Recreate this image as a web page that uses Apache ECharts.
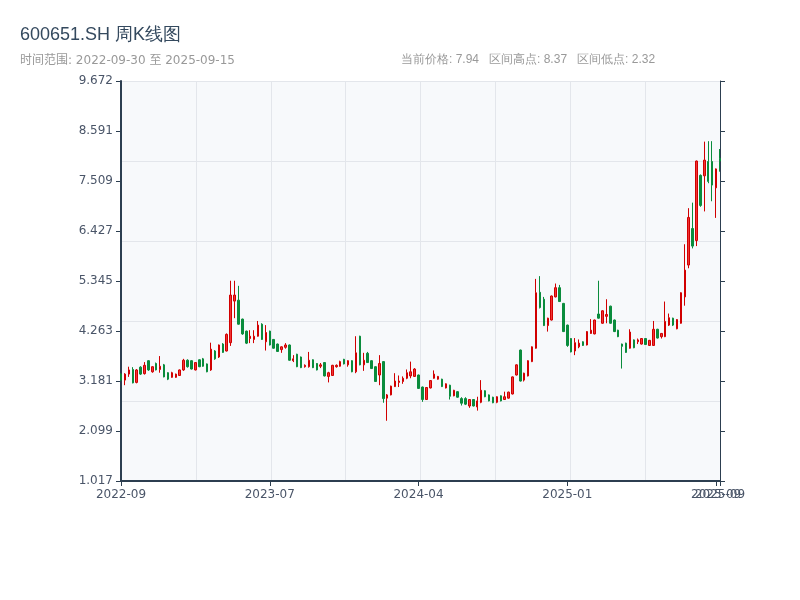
<!DOCTYPE html>
<html><head><meta charset="utf-8">
<script src="https://cdn.jsdelivr.net/npm/echarts@6/dist/echarts.min.js"></script>
<style>html,body{margin:0;padding:0;background:#fff}#c{width:800px;height:600px}</style>
</head><body><div id="c"></div>
<script>
// ---- categories (weekly trading dates) ----
const firstFriday = '2022-09-30';
const lastWeekFriday = '2025-09-12';
const holidayWeeks = ['2022-10-07', '2023-01-27', '2023-10-06', '2024-02-16'];
const extraDates = ['2025-01-27', '2025-04-30'];
const lastDate = '2025-09-15';

// ---- weekly OHLC ----
const opens = [3.33,3.20,3.33,3.43,3.15,3.48,3.34,3.62,3.38,3.56,3.43,3.53,3.36,3.26,3.26,3.30,3.42,3.63,3.62,3.42,
3.64,3.66,3.55,3.42,3.83,3.70,3.98,3.83,4.01,4.91,4.93,4.52,4.26,4.10,4.08,4.15,4.41,4.03,4.26,4.08,
3.98,3.86,3.91,3.96,3.62,3.76,3.70,3.49,3.49,3.64,3.56,3.50,3.58,3.28,3.30,3.49,3.50,3.65,3.53,3.62,
3.38,4.15,3.53,3.78,3.62,3.49,3.31,3.60,2.81,2.88,3.06,3.15,3.17,3.24,3.29,3.28,3.31,3.05,2.78,3.03,
3.24,3.22,3.22,3.03,3.09,2.86,2.95,2.80,2.80,2.64,2.78,2.62,2.72,2.97,2.88,2.83,2.72,2.86,2.78,2.81,
2.90,3.31,3.85,3.20,3.29,3.60,3.89,5.10,4.95,4.38,4.50,5.00,5.20,4.86,4.39,4.10,3.83,3.92,4.03,3.96,
4.21,4.20,4.63,4.43,4.58,4.80,4.50,4.28,3.98,4.00,3.89,4.07,4.03,3.98,4.10,3.95,3.95,4.30,4.14,4.14,
4.39,4.54,4.31,4.43,5.00,5.69,6.48,6.22,7.63,7.62,7.93,7.93,7.36,8.00];
const closes = [3.20,3.33,3.42,3.14,3.42,3.33,3.52,3.42,3.49,3.42,3.50,3.27,3.22,3.36,3.33,3.42,3.63,3.49,3.44,3.58,
3.49,3.50,3.38,3.87,3.66,3.96,3.80,4.19,5.04,5.04,4.41,4.20,4.00,4.15,4.15,4.39,4.08,4.23,3.96,3.89,
3.82,3.92,3.96,3.63,3.66,3.49,3.47,3.52,3.63,3.47,3.42,3.53,3.29,3.36,3.52,3.52,3.60,3.55,3.62,3.38,
3.79,3.53,3.63,3.58,3.45,3.17,3.56,2.80,2.88,3.07,3.18,3.18,3.24,3.36,3.38,3.44,3.02,2.78,3.04,3.19,
3.33,3.28,3.06,3.12,2.85,2.98,2.83,2.70,2.68,2.78,2.64,2.75,2.98,2.84,2.75,2.71,2.84,2.75,2.84,2.94,
3.27,3.53,3.18,3.35,3.62,3.92,5.09,4.77,4.38,4.54,5.02,5.20,4.90,4.25,3.95,3.81,4.01,4.00,3.95,4.25,
4.28,4.50,4.54,4.70,4.62,4.43,4.25,4.14,3.93,3.80,4.24,3.90,4.07,4.10,3.97,4.06,4.30,4.11,4.21,4.47,
4.55,4.39,4.51,5.09,5.58,6.72,6.10,7.94,6.98,7.96,7.50,7.42,7.77,7.94];
const lows = [3.18,3.09,3.27,3.13,3.13,3.31,3.32,3.40,3.36,3.41,3.36,3.26,3.20,3.25,3.25,3.29,3.40,3.47,3.43,3.41,
3.48,3.49,3.37,3.40,3.64,3.68,3.79,3.82,3.94,4.54,4.40,4.18,3.98,4.00,4.00,4.14,4.07,3.84,3.95,3.88,
3.81,3.79,3.88,3.62,3.59,3.48,3.46,3.47,3.47,3.46,3.41,3.46,3.28,3.15,3.29,3.47,3.49,3.54,3.49,3.37,
3.35,3.52,3.40,3.57,3.44,3.16,3.09,2.71,2.32,2.87,3.05,3.05,3.12,3.22,3.24,3.27,3.01,2.73,2.77,3.02,
3.23,3.21,3.05,3.02,2.78,2.85,2.82,2.65,2.66,2.60,2.63,2.54,2.70,2.83,2.74,2.70,2.70,2.74,2.77,2.80,
2.89,3.30,3.17,3.17,3.28,3.59,3.88,4.75,4.37,4.25,4.49,4.99,4.89,4.24,3.92,3.80,3.74,3.89,3.94,3.95,
4.20,4.19,4.53,4.42,4.43,4.42,4.24,4.13,3.45,3.79,3.88,3.89,3.98,3.97,3.96,3.94,3.94,4.10,4.10,4.13,
4.37,4.37,4.30,4.42,4.81,5.62,6.05,6.10,6.95,6.85,7.46,7.07,6.71,7.71];
const highs = [3.35,3.35,3.49,3.48,3.44,3.50,3.59,3.63,3.50,3.58,3.72,3.55,3.37,3.38,3.34,3.43,3.66,3.65,3.63,3.59,
3.65,3.68,3.56,4.01,3.85,3.97,4.00,4.21,5.35,5.35,5.24,4.53,4.27,4.28,4.28,4.48,4.43,4.39,4.27,4.09,
3.99,3.93,4.00,3.97,3.74,3.77,3.71,3.54,3.81,3.65,3.57,3.57,3.59,3.38,3.53,3.54,3.62,3.66,3.63,3.63,
4.15,4.16,3.79,3.81,3.63,3.50,3.74,3.61,2.90,3.08,3.35,3.30,3.28,3.43,3.60,3.46,3.32,3.06,3.05,3.20,
3.41,3.29,3.23,3.13,3.10,2.99,2.96,2.83,2.83,2.79,2.79,2.84,3.20,2.98,2.89,2.84,2.85,2.87,2.95,2.95,
3.28,3.54,3.86,3.36,3.63,3.93,5.39,5.45,5.00,4.55,5.03,5.29,5.26,4.87,4.40,4.11,4.11,4.08,4.04,4.26,
4.52,4.51,5.35,4.71,4.95,4.81,4.51,4.29,3.99,4.01,4.30,4.08,4.10,4.11,4.11,4.07,4.48,4.31,4.22,4.90,
4.64,4.55,4.52,5.10,6.14,6.92,7.04,7.95,7.65,8.36,8.37,8.37,7.78,8.20];

// ---- y tick labels ----
const yTicks = [1.017, 2.099, 3.181, 4.263, 5.345, 6.427, 7.509, 8.591, 9.672];
const xLabelStep = 38;

// build the date categories
function fmt(d){ return d.toISOString().slice(0,10); }
const dates = [];
for (let d = new Date(firstFriday + 'T00:00:00Z'); fmt(d) <= lastWeekFriday; d.setUTCDate(d.getUTCDate()+7)) {
  const s = fmt(d);
  if (holidayWeeks.indexOf(s) < 0) dates.push(s);
}
extraDates.forEach(s => dates.push(s));
dates.sort();
dates.push(lastDate);
const lastIdx = dates.length - 1;

const kData = opens.map((o, i) => [o, closes[i], lows[i], highs[i]]);
const curPrice = closes[closes.length - 1];
const hi = Math.max.apply(null, highs);
const lo = Math.min.apply(null, lows);

const axisColor = '#2c3e50';
const labelColor = '#4a5568';
const latin = 'DejaVu Sans, Noto Sans CJK SC, sans-serif';
const chart = echarts.init(document.getElementById('c'));
chart.setOption({
  animation: false,
  backgroundColor: '#ffffff',
  title: {
    text: '600651.SH 周K线图',
    subtext: '时间范围: ' + dates[0] + ' 至 ' + dates[lastIdx],
    left: 15, top: 21, itemGap: 11,
    textStyle: { fontSize: 18, fontWeight: 'normal', color: '#34495e' },
    subtextStyle: { fontSize: 12, color: '#999999', fontFamily: latin }
  },
  graphic: [{
    type: 'text', left: 401, top: 54,
    style: {
      text: '当前价格: ' + curPrice.toFixed(2) + '   区间高点: ' + hi.toFixed(2) + '   区间低点: ' + lo.toFixed(2),
      fill: '#999999', fontSize: 12
    }
  }],
  grid: { left: 121, right: 80, top: 81, bottom: 119, show: true, backgroundColor: '#f7f9fb', borderWidth: 0 },
  xAxis: [{
    type: 'category', data: dates, boundaryGap: false, position: 'bottom',
    axisLine: { lineStyle: { color: axisColor, width: 2 } },
    axisTick: { lineStyle: { color: axisColor } },
    axisLabel: { interval: xLabelStep - 1, hideOverlap: false, formatter: v => v.slice(0, 7), color: labelColor, fontSize: 12, fontFamily: latin },
    splitLine: { show: false }
  }, {
    type: 'category', data: dates, boundaryGap: false, position: 'bottom',
    axisLine: { show: false },
    axisTick: { show: true, interval: (i) => i === lastIdx, lineStyle: { color: axisColor } },
    axisLabel: { interval: (i) => i === lastIdx, hideOverlap: false, formatter: v => v.slice(0, 7), color: labelColor, fontSize: 12, fontFamily: latin },
    splitLine: { show: false }
  }, {
    type: 'value', min: 0, max: 8, interval: 1, position: 'top',
    axisLine: { show: false }, axisTick: { show: false }, axisLabel: { show: false },
    splitLine: { show: true, lineStyle: { color: '#e3e6eb', width: 1 } }
  }],
  yAxis: [{
    type: 'value', min: yTicks[0], max: yTicks[yTicks.length - 1], position: 'left',
    axisLine: { show: true, lineStyle: { color: axisColor, width: 2 } },
    axisTick: { show: true, customValues: yTicks, lineStyle: { color: axisColor } },
    axisLabel: { customValues: yTicks, formatter: v => v.toFixed(3), color: labelColor, fontSize: 12, fontFamily: latin },
    splitLine: { show: false }
  }, {
    type: 'value', min: yTicks[0], max: yTicks[yTicks.length - 1], position: 'right',
    axisLine: { show: true, lineStyle: { color: axisColor, width: 1 } },
    axisTick: { show: true, customValues: yTicks, lineStyle: { color: axisColor } },
    axisLabel: { show: false, customValues: yTicks },
    splitLine: { show: false }
  }, {
    type: 'value', min: 0, max: 5, interval: 1, position: 'left',
    axisLine: { show: false }, axisTick: { show: false }, axisLabel: { show: false },
    splitLine: { show: true, lineStyle: { color: '#e3e6eb', width: 1 } }
  }],
  series: [{
    type: 'candlestick', xAxisIndex: 0, yAxisIndex: 0, data: kData,
    itemStyle: { color: '#f03535', color0: '#0a8c3c', borderColor: '#d10000', borderColor0: '#0a8c3c', borderWidth: 1 }
  }]
});
</script></body></html>
